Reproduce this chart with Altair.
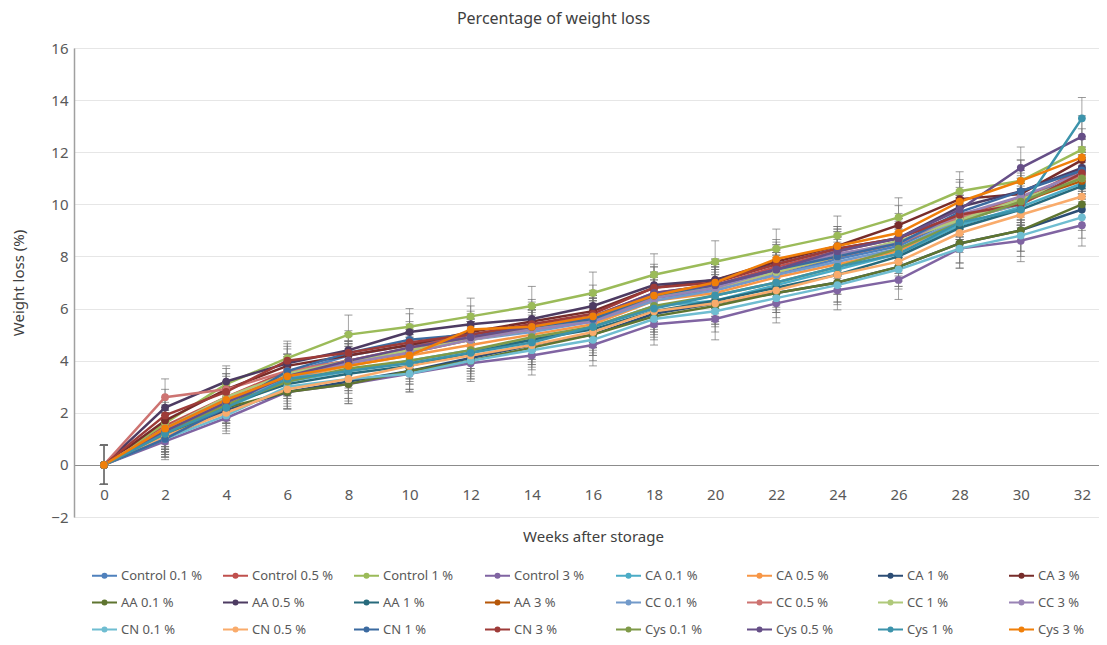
import altair as alt
import pandas as pd

weeks = [0, 2, 4, 6, 8, 10, 12, 14, 16, 18, 20, 22, 24, 26, 28, 30, 32]
y_ticks = [-2, 0, 2, 4, 6, 8, 10, 12, 14, 16]

series = [
    "Control 0.1 %", "Control 0.5 %", "Control 1 %", "Control 3 %",
    "CA 0.1 %", "CA 0.5 %", "CA 1 %", "CA 3 %",
    "AA 0.1 %", "AA 0.5 %", "AA 1 %", "AA 3 %",
    "CC 0.1 %", "CC 0.5 %", "CC 1 %", "CC 3 %",
    "CN 0.1 %", "CN 0.5 %", "CN 1 %", "CN 3 %",
    "Cys 0.1 %", "Cys 0.5 %", "Cys 1 %", "Cys 3 %",
]
colors = [
    "#4F81BD", "#C0504D", "#9BBB59", "#8064A2",
    "#4BACC6", "#F79646", "#2C4D75", "#772C2A",
    "#5F7530", "#4D3B62", "#276A7C", "#B65708",
    "#729ACA", "#CD7371", "#AFC97A", "#9983B5",
    "#6FBDD1", "#F9AB6B", "#3B6AA0", "#9E3B38",
    "#7F9A48", "#664F87", "#3C93AB", "#F07F09",
]

control_01 = [0, 1.3, 2.4, 3.5, 4.2, 4.6, 4.9, 5.2, 5.5, 6.4, 6.7, 7.3, 7.9, 8.4, 9.5, 10.0, 11.4]
control_05 = [0, 1.5, 2.6, 3.6, 4.0, 4.5, 5.0, 5.4, 5.7, 6.6, 6.9, 7.6, 8.2, 8.7, 9.6, 10.2, 11.3]
control_1 = [0, 1.6, 3.1, 4.1, 5.0, 5.3, 5.7, 6.1, 6.6, 7.3, 7.8, 8.3, 8.8, 9.5, 10.5, 10.9, 12.1]
control_3 = [0, 0.9, 1.8, 2.8, 3.1, 3.5, 3.9, 4.2, 4.6, 5.4, 5.6, 6.2, 6.7, 7.1, 8.3, 8.6, 9.2]
ca_01 = [0, 1.1, 2.2, 3.2, 3.6, 4.0, 4.4, 4.8, 5.3, 6.1, 6.3, 6.9, 7.5, 8.1, 9.2, 9.9, 10.8]
ca_05 = [0, 1.2, 2.3, 3.3, 3.8, 4.2, 4.6, 5.0, 5.4, 6.3, 6.6, 7.2, 7.7, 8.2, 9.4, 10.0, 11.1]
ca_1 = [0, 1.0, 2.1, 2.8, 3.2, 3.6, 4.1, 4.6, 5.0, 5.8, 6.2, 6.6, 7.0, 7.6, 8.5, 9.0, 9.8]
ca_3 = [0, 1.7, 2.9, 3.8, 4.2, 4.6, 5.1, 5.5, 5.9, 6.8, 7.1, 7.8, 8.4, 9.2, 10.2, 10.4, 11.7]
aa_01 = [0, 1.1, 2.2, 2.8, 3.1, 3.6, 4.0, 4.5, 5.0, 5.7, 6.1, 6.6, 7.0, 7.6, 8.5, 9.0, 10.0]
aa_05 = [0, 2.2, 3.2, 3.9, 4.4, 5.1, 5.4, 5.6, 6.1, 6.9, 7.1, 7.7, 8.3, 8.7, 9.9, 10.5, 11.4]
aa_1 = [0, 1.2, 2.3, 3.1, 3.5, 3.8, 4.3, 4.8, 5.2, 5.9, 6.3, 6.8, 7.3, 8.0, 9.1, 9.8, 10.7]
aa_3 = [0, 1.3, 2.4, 3.4, 3.9, 4.3, 4.8, 5.2, 5.6, 6.5, 6.9, 7.4, 8.0, 8.5, 9.5, 10.1, 10.9]
cc_01 = [0, 1.3, 2.4, 3.3, 3.9, 4.4, 4.8, 5.1, 5.5, 6.3, 6.7, 7.3, 7.8, 8.3, 9.4, 10.0, 11.2]
cc_05 = [0, 2.6, 2.9, 3.6, 4.0, 4.4, 4.9, 5.3, 5.6, 6.5, 6.8, 7.4, 8.0, 8.5, 9.5, 10.1, 11.1]
cc_1 = [0, 1.4, 2.6, 3.5, 4.0, 4.4, 4.8, 5.2, 5.6, 6.5, 6.8, 7.4, 8.0, 8.6, 9.4, 10.2, 11.0]
cc_3 = [0, 1.4, 2.5, 3.4, 3.9, 4.3, 4.8, 5.2, 5.5, 6.4, 6.8, 7.5, 8.1, 8.5, 9.6, 10.3, 11.2]
cn_01 = [0, 1.0, 1.9, 3.0, 3.3, 3.5, 4.0, 4.4, 4.8, 5.6, 5.9, 6.4, 6.9, 7.5, 8.3, 8.8, 9.5]
cn_05 = [0, 1.1, 2.0, 2.9, 3.3, 3.8, 4.2, 4.6, 5.1, 5.9, 6.2, 6.7, 7.3, 7.8, 8.9, 9.6, 10.3]
cn_1 = [0, 1.0, 2.2, 3.6, 4.3, 4.8, 5.0, 5.3, 5.6, 6.5, 6.9, 7.5, 8.0, 8.5, 9.7, 10.5, 11.3]
cn_3 = [0, 1.9, 2.8, 4.0, 4.3, 4.7, 5.0, 5.4, 5.8, 6.8, 7.0, 7.7, 8.3, 8.7, 9.6, 10.0, 11.2]
cys_01 = [0, 1.2, 2.3, 3.2, 3.7, 4.0, 4.4, 4.9, 5.3, 6.1, 6.5, 7.0, 7.6, 8.3, 9.3, 10.1, 11.0]
cys_05 = [0, 1.3, 2.4, 3.4, 4.0, 4.5, 4.9, 5.3, 5.7, 6.6, 6.9, 7.5, 8.2, 8.7, 9.8, 11.4, 12.6]
cys_1 = [0, 1.2, 2.2, 3.3, 3.6, 3.9, 4.3, 4.7, 5.3, 6.0, 6.5, 7.0, 7.6, 8.1, 9.3, 9.8, 13.3]
cys_3 = [0, 1.4, 2.5, 3.4, 3.8, 4.2, 5.2, 5.3, 5.7, 6.5, 7.0, 7.9, 8.4, 8.9, 10.1, 10.9, 11.8]

# error bar half-width at each week (read from the caps)
err = [0.75, 0.7, 0.6, 0.65, 0.75, 0.7, 0.7, 0.75, 0.8, 0.8, 0.8, 0.75, 0.75, 0.75, 0.75, 0.8, 0.8]

all_values = [
    control_01, control_05, control_1, control_3,
    ca_01, ca_05, ca_1, ca_3,
    aa_01, aa_05, aa_1, aa_3,
    cc_01, cc_05, cc_1, cc_3,
    cn_01, cn_05, cn_1, cn_3,
    cys_01, cys_05, cys_1, cys_3,
]

rows = []
for i, (name, vals) in enumerate(zip(series, all_values)):
    for w, v, e in zip(weeks, vals, err):
        rows.append({"series": name, "idx": i, "week": w, "value": v,
                     "lo": v - e, "hi": v + e})
df = pd.DataFrame(rows)

FONT = "Noto Sans"
LABEL = "#595959"

x_scale = alt.Scale(domain=[-0.98, 32.56], nice=False, zero=False)
y_scale = alt.Scale(domain=[-2, 16], nice=False, zero=False)

x_axis = alt.Axis(
    values=weeks, title="Weeks after storage", grid=False, ticks=False,
    offset=-52, domainColor="#8C8C8C", domainWidth=1.2,
    labelFont=FONT, labelFontSize=15, labelColor=LABEL, labelPadding=22,
    labelBaseline="top",
    titleFont=FONT, titleFontSize=15, titleFontWeight="normal", titleColor="#404040",
    titleX=519, titleY=71, titleBaseline="middle",
)
y_axis = alt.Axis(
    values=y_ticks, title="Weight loss (%)", grid=True, gridColor="#E6E6E6",
    gridWidth=1, ticks=False, domainColor="#A0A0A0", domainWidth=1.5,
    labelFont=FONT, labelFontSize=15, labelColor=LABEL, labelPadding=6,
    titleFont=FONT, titleFontSize=15, titleFontWeight="normal", titleColor="#404040",
    titleX=-56, titleY=234.5, titleAngle=-90, titleBaseline="middle", titleAlign="center",
)

X = alt.X("week:Q", scale=x_scale, axis=x_axis)
color_scale = alt.Scale(domain=series, range=colors)

legend_symbol = ("M-1,0L1,0"
                 "M-0.16,0a0.16,0.16 0 1,0 0.32,0a0.16,0.16 0 1,0 -0.32,0"
                 "M-0.06,0a0.06,0.06 0 1,0 0.12,0a0.06,0.06 0 1,0 -0.12,0")

base = alt.Chart(df)

err_rule = base.mark_rule(color="#7F7F7F", strokeWidth=1, opacity=0.7).encode(
    x=X, y=alt.Y("lo:Q", scale=y_scale, axis=y_axis), y2="hi:Q")
cap_lo = base.mark_tick(orient="horizontal", size=8, thickness=1,
                        color="#6F6F6F", opacity=0.7).encode(
    x=X, y=alt.Y("lo:Q", scale=y_scale, axis=y_axis))
cap_hi = base.mark_tick(orient="horizontal", size=8, thickness=1,
                        color="#6F6F6F", opacity=0.7).encode(
    x=X, y=alt.Y("hi:Q", scale=y_scale, axis=y_axis))

lines = base.mark_line(strokeWidth=2.5).encode(
    x=X,
    y=alt.Y("value:Q", scale=y_scale, axis=y_axis),
    color=alt.Color("series:N", scale=color_scale, sort=series,
                    legend=alt.Legend(
                        orient="none", legendX=17, legendY=514,
                        direction="horizontal", columns=8, title=None,
                        symbolType=legend_symbol, symbolSize=625,
                        symbolStrokeWidth=2, gridAlign="all",
                        columnPadding=16, rowPadding=6, labelOffset=3,
                        labelFont=FONT, labelFontSize=13, labelColor=LABEL,
                        labelLimit=0)),
    order=alt.Order("week:Q"),
)
points = base.mark_point(filled=True, size=60, opacity=1).encode(
    x=X,
    y=alt.Y("value:Q", scale=y_scale, axis=y_axis),
    color=alt.Color("series:N", scale=color_scale, sort=series, legend=None),
)

chart = alt.layer(err_rule, cap_lo, cap_hi, lines, points).properties(
    width=1025, height=469,
    autosize=alt.AutoSizeParams(type="none"),
    padding={"left": 66, "top": 40, "right": 0, "bottom": 120},
    title=alt.TitleParams("Percentage of weight loss", font=FONT, fontSize=16,
                          fontWeight="normal", color="#404040", anchor="middle",
                          offset=14, dx=-33),
).configure_view(stroke=None).configure(background="white")

chart.save("out.html", embed_options={"renderer": "svg", "actions": False})
